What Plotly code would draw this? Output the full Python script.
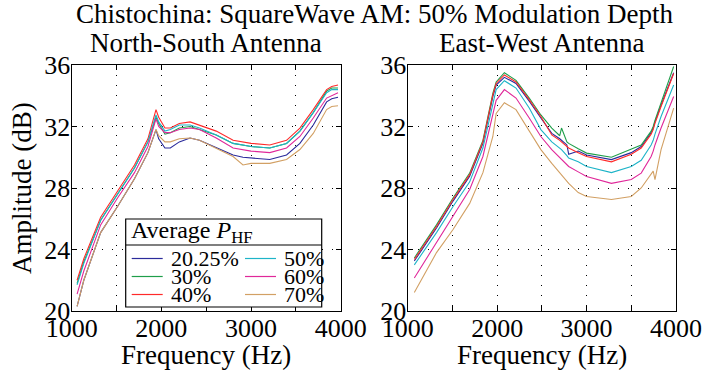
import plotly.graph_objects as go

# ---------------- data ----------------
labels = ["20.25%", "30%", "40%", "50%", "60%", "70%"]
colors = ["#2b2b9b", "#1f9e4a", "#ff2a2a", "#1eb4c8", "#e0289a", "#d2a064"]

ns_freq = [1060, 1135, 1323, 1511, 1700, 1850, 1940, 1970, 2040, 2100, 2200, 2320,
           2425, 2612, 2800, 2910, 3000, 3209, 3396, 3545, 3694, 3843, 3900, 3970]
ns_2025 = [20.3, 22.0, 25.1, 26.8, 28.6, 30.3, 31.8, 31.2, 30.6, 30.6, 31.0, 31.25,
           31.1, 30.6, 30.15, 30.0, 29.95, 29.85, 30.15, 30.9, 32.1, 33.6, 33.8, 33.9]
ns_30 = [21.8, 23.2, 25.9, 27.6, 29.3, 31.0, 32.6, 32.2, 31.5, 31.6, 31.9, 32.0,
         31.8, 31.45, 30.9, 30.8, 30.7, 30.6, 30.9, 31.7, 32.9, 34.3, 34.5, 34.5]
ns_40 = [22.0, 23.4, 26.1, 27.8, 29.5, 31.2, 33.1, 32.6, 31.9, 31.9, 32.2, 32.3,
         32.1, 31.7, 31.1, 31.0, 30.9, 30.8, 31.1, 31.9, 33.1, 34.4, 34.6, 34.7]
ns_50 = [21.7, 23.1, 25.9, 27.6, 29.3, 31.0, 32.75, 32.3, 31.7, 31.8, 32.1, 32.1,
         31.9, 31.45, 30.9, 30.8, 30.7, 30.6, 30.9, 31.7, 32.9, 34.2, 34.4, 34.4]
ns_60 = [21.1, 22.6, 25.6, 27.35, 29.0, 30.7, 32.5, 32.0, 31.6, 31.6, 31.8, 31.9,
         31.8, 31.25, 30.6, 30.5, 30.4, 30.3, 30.6, 31.35, 32.55, 33.85, 34.0, 34.2]
ns_70 = [20.3, 22.0, 25.1, 26.8, 28.6, 30.3, 31.8, 31.4, 31.0, 31.0, 31.2, 31.25,
         31.1, 30.6, 30.05, 29.5, 29.6, 29.6, 29.85, 30.5, 31.55, 33.1, 33.3, 33.35]

ew_freq = [1074, 1322, 1507, 1693, 1841, 1952, 1989, 2081, 2211, 2359, 2489, 2611,
           2700, 2720, 2780, 2800, 2907, 3000, 3278, 3500, 3611, 3722, 3745, 3765,
           3833, 3974]
ew_2025 = [23.25, 25.4, 27.15, 28.77, 30.9, 33.95, 34.7, 35.2, 34.8, 33.65, 32.55, 31.55,
           31.2, 31.1, 30.8, 30.2, 30.4, 30.15, 29.85, 30.3, 30.7, 31.6, 31.9, 32.3,
           33.4, 35.5]
ew_30 = [23.45, 25.6, 27.35, 28.97, 31.1, 34.15, 34.9, 35.5, 35.0, 33.85, 32.75, 31.9,
         31.4, 31.9, 31.0, 30.9, 30.55, 30.27, 30.0, 30.5, 30.8, 31.7, 32.0, 32.4,
         33.5, 35.9]
ew_40 = [23.35, 25.5, 27.25, 28.87, 31.0, 34.05, 34.8, 35.35, 34.9, 33.75, 32.65, 31.45,
         31.1, 31.0, 30.7, 30.6, 30.3, 30.05, 29.7, 30.2, 30.6, 31.5, 31.8, 32.2,
         33.3, 35.45]
ew_50 = [23.0, 25.1, 26.8, 28.4, 30.6, 33.6, 34.4, 34.98, 34.5, 33.2, 31.8, 31.0,
         30.6, 30.5, 30.1, 29.95, 29.7, 29.4, 29.0, 29.4, 29.8, 30.8, 31.1, 31.5,
         32.65, 34.7]
ew_60 = [22.15, 24.45, 26.15, 27.9, 30.05, 32.75, 33.7, 34.4, 33.85, 32.55, 31.35, 30.5,
         30.0, 29.9, 29.5, 29.4, 29.05, 28.75, 28.3, 28.55, 28.97, 30.05, 30.4, 30.8,
         31.9, 33.95]
ew_70 = [21.2, 23.8, 25.3, 27.0, 29.0, 31.35, 32.85, 33.55, 33.1, 31.7, 30.5, 29.6,
         29.0, 28.8, 28.4, 28.3, 27.7, 27.45, 27.25, 27.45, 28.0, 28.97, 29.1, 28.55,
         30.5, 33.2]

x_tickvals = [1000, 2000, 3000, 4000]
x_minor_step = 500
y_tickvals = [20, 24, 28, 32, 36]

main_title = "Chistochina: SquareWave AM: 50% Modulation Depth"
panel_titles = ["North-South Antenna", "East-West Antenna"]
x_title = "Frequency (Hz)"
y_title = "Amplitude (dB)"
legend_title = "Average <i>P</i><sub>HF</sub>"

ns_series = [ns_2025, ns_30, ns_40, ns_50, ns_60, ns_70]
ew_series = [ew_2025, ew_30, ew_40, ew_50, ew_60, ew_70]

# ---------------- figure ----------------
W, H = 705, 373
FONT = "'Liberation Serif', 'Times New Roman', Times, serif"


def px(x):
    return x / W


def py(y):
    return 1 - y / H


fig = go.Figure()
for lab, col, ys in zip(labels, colors, ns_series):
    fig.add_trace(go.Scatter(x=ns_freq, y=ys, mode="lines", name=lab,
                             line=dict(color=col, width=1.1),
                             xaxis="x", yaxis="y", showlegend=False))
for lab, col, ys in zip(labels, colors, ew_series):
    fig.add_trace(go.Scatter(x=ew_freq, y=ys, mode="lines", name=lab,
                             line=dict(color=col, width=1.1),
                             xaxis="x2", yaxis="y2", showlegend=False))

x_dom1 = [px(71.7), px(340.7)]
x_dom2 = [px(407.7), px(676)]
y_dom = [py(311), py(65)]

common = dict(
    showline=True, linecolor="black", linewidth=1.3, mirror="ticks",
    ticks="inside", ticklen=5, tickwidth=1, tickcolor="black",
    showgrid=True, gridcolor="black", gridwidth=1, griddash="1px,9px",
    zeroline=False, automargin=False,
    tickfont=dict(family=FONT, size=26, color="black"),
)

xa = dict(common, range=[1000, 4000], tickvals=x_tickvals, ticklabelstandoff=-6,
          minor=dict(dtick=x_minor_step, tick0=1000, ticks="inside", ticklen=5,
                     tickcolor="black", showgrid=True, gridcolor="black",
                     gridwidth=1, griddash="1px,9px"))
ya = dict(common, range=[20, 36], tickvals=y_tickvals, ticklabelstandoff=-5)

fig.update_layout(
    width=W, height=H,
    margin=dict(l=0, r=0, t=0, b=0, pad=0),
    paper_bgcolor="white", plot_bgcolor="white",
    font=dict(family=FONT, color="black"),
    xaxis=dict(xa, domain=x_dom1, anchor="y"),
    yaxis=dict(ya, domain=y_dom, anchor="x"),
    xaxis2=dict(xa, domain=x_dom2, anchor="y2"),
    yaxis2=dict(ya, domain=y_dom, anchor="x2"),
)

ann = []
ann.append(dict(text=main_title, x=px(374), y=py(14), xref="paper", yref="paper",
                showarrow=False, font=dict(size=27), xanchor="center", yanchor="middle"))
for t, cx in zip(panel_titles, [206, 542]):
    ann.append(dict(text=t, x=px(cx), y=py(43), xref="paper", yref="paper",
                    showarrow=False, font=dict(size=27), xanchor="center", yanchor="middle"))
    ann.append(dict(text=x_title, x=px(cx), y=py(355), xref="paper", yref="paper",
                    showarrow=False, font=dict(size=27), xanchor="center", yanchor="middle"))
ann.append(dict(text=y_title, x=px(22), y=py(188), xref="paper", yref="paper",
                showarrow=False, font=dict(size=27), textangle=-90,
                xanchor="center", yanchor="middle"))

# legend (drawn manually to match the compact two-column box)
shapes = []
lx0, lx1, ly0, ly1 = 125.7, 321.7, 219, 307
shapes.append(dict(type="rect", xref="paper", yref="paper",
                   x0=px(lx0), x1=px(lx1), y0=py(ly1), y1=py(ly0),
                   line=dict(color="black", width=1.2), fillcolor="white", layer="above"))
shapes.append(dict(type="line", xref="paper", yref="paper",
                   x0=px(lx0), x1=px(lx1), y0=py(245), y1=py(245),
                   line=dict(color="black", width=1.2), layer="above"))
ann.append(dict(text=legend_title, x=px(129), y=py(232), xref="paper", yref="paper",
                showarrow=False, font=dict(size=24), xanchor="left", yanchor="middle"))
row_y = [258.5, 276.5, 294.5]
cols = [(131.7, 162.7, 169), (245, 276, 282)]
for i, (lab, col) in enumerate(zip(labels, colors)):
    c = i // 3
    r = i % 3
    x0, x1, tx = cols[c]
    yy = row_y[r]
    shapes.append(dict(type="line", xref="paper", yref="paper",
                       x0=px(x0), x1=px(x1), y0=py(yy), y1=py(yy),
                       line=dict(color=col, width=1.2), layer="above"))
    ann.append(dict(text=lab, x=px(tx), y=py(yy), xref="paper", yref="paper",
                    showarrow=False, font=dict(size=22), xanchor="left", yanchor="middle"))

fig.update_layout(annotations=ann, shapes=shapes)
fig.write_html("out.html", config={"displayModeBar": False},
               post_script="document.body.style.margin='0';")
